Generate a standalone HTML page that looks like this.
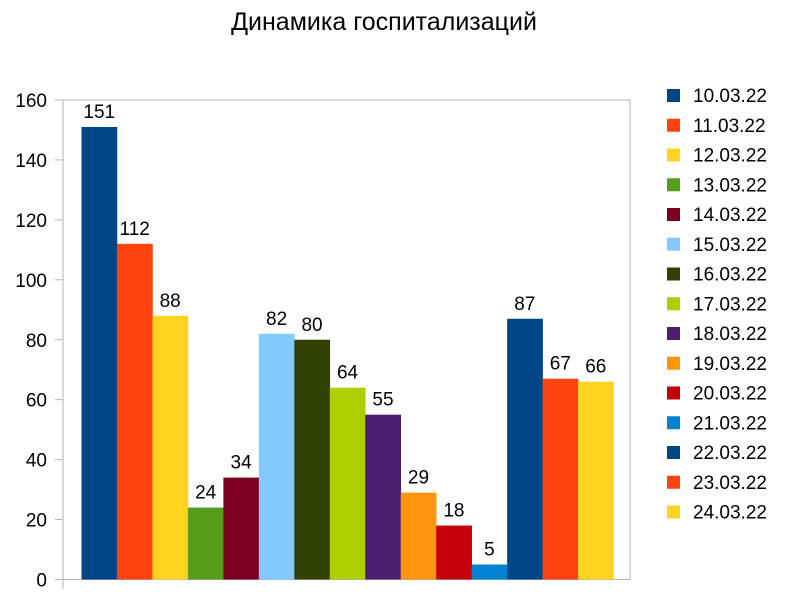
<!DOCTYPE html>
<html><head><meta charset="utf-8"><style>
body{margin:0;background:#fff;}
svg{display:block;font-family:"Liberation Sans",sans-serif;}
</style></head><body>
<svg id="c" width="800" height="602">
<text x="384" y="30" font-size="25" text-anchor="middle" fill="#000">Динамика госпитализаций</text>
</svg>
<script>
const dates=["10.03.22","11.03.22","12.03.22","13.03.22","14.03.22","15.03.22","16.03.22","17.03.22","18.03.22","19.03.22","20.03.22","21.03.22","22.03.22","23.03.22","24.03.22"];
const values=[151,112,88,24,34,82,80,64,55,29,18,5,87,67,66];
const ticks=[0,20,40,60,80,100,120,140,160];
const colors=["#004586","#ff420e","#ffd320","#579d1c","#7e0021","#83caff","#314004","#aecf00","#4b1f6f","#ff950e","#c5000b","#0084d1","#004586","#ff420e","#ffd320"];
const svg=document.getElementById('c');
const NS="http://www.w3.org/2000/svg";
const X0=63,X1=630,Y0=579.5,Y1=100,YMAX=160;
const y=v=>Y0-(v/YMAX)*(Y0-Y1);
const bw=35.47,bx0=81.5;
const x=i=>bx0+i*bw;
function mk(t,a){const e=document.createElementNS(NS,t);for(const k in a)e.setAttribute(k,a[k]);svg.appendChild(e);return e;}
let f=mk('rect',{x:X0,y:Y1,width:X1-X0,height:Y0-Y1,fill:'none',stroke:'#b3b3b3','stroke-width':1});


ticks.forEach(t=>{
 let l=mk('line',{x1:55,x2:X0,y1:y(t),y2:y(t),stroke:'#b3b3b3'});
 
 
 let tx=mk('text',{x:47,y:y(t)+7,'font-size':19,'text-anchor':'end',fill:'#000'});
 tx.textContent=t;
 
 
});
let va=mk('line',{x1:X0,x2:X0,y1:Y1,y2:589,stroke:'#b3b3b3'});


values.forEach((v,i)=>{
 let r=mk('rect',{x:x(i),y:y(v),width:bw+0.3,height:Y0-y(v),fill:colors[i]});
 
 
 let t=mk('text',{x:x(i)+bw/2,y:y(v)-9,'font-size':19,'text-anchor':'middle',fill:'#000'});
 t.textContent=v;
 
 
});
dates.forEach((d,i)=>{
 const cy=95+i*29.75;
 let s=mk('rect',{x:667,y:cy-6,width:13,height:13,fill:colors[i]});
 
 
 let t=mk('text',{x:693,y:cy+7,'font-size':19,fill:'#000'});
 t.textContent=d;
 
 
});
</script>
</body></html>
